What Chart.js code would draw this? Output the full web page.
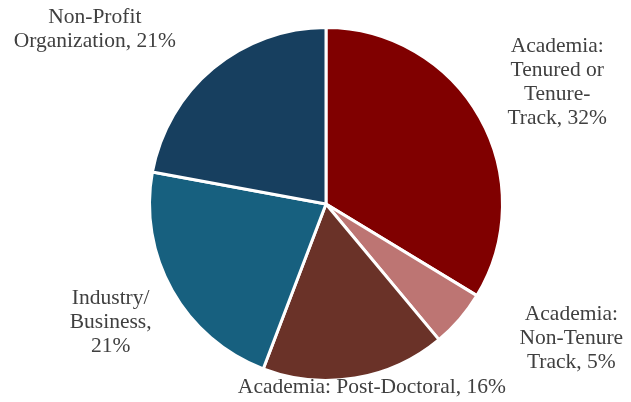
<!DOCTYPE html>
<html>
<head>
<meta charset="utf-8">
<script src="https://cdn.jsdelivr.net/npm/chart.js@4/dist/chart.umd.min.js"></script>
<style>
  html, body { margin: 0; padding: 0; background: #ffffff; }
  #wrap { width: 631px; height: 402px; position: relative; }
</style>
</head>
<body>
<div id="wrap"><canvas id="pieChart"></canvas></div>
<script>
// chart data
const categories = [
  ["Academia:", "Tenured or", "Tenure-", "Track, 32%"],
  ["Academia:", "Non-Tenure", "Track, 5%"],
  ["Academia: Post-Doctoral, 16%"],
  ["Industry/", "Business,", "21%"],
  ["Non-Profit", "Organization, 21%"]
];
const shares = [32, 5, 16, 21, 21];
const sliceColors = ["#800000", "#bd7573", "#6a3228", "#17607f", "#173f5f"];

// label centres relative to pie centre, in units of the pie radius
const labelOffsets = [
  [1.31, -0.69],
  [1.39, 0.76],
  [0.26, 1.04],
  [-1.22, 0.67],
  [-1.31, -0.99]
];

document.addEventListener("DOMContentLoaded", function () {
  const ctx = document.getElementById("pieChart").getContext("2d");

  // draws the outside labels next to each slice
  const outsideLabels = {
    id: "outsideLabels",
    afterDatasetsDraw(chart) {
      const meta = chart.getDatasetMeta(0);
      const c = chart.ctx;
      c.save();
      c.font = "21.5px 'Liberation Serif', 'Times New Roman', serif";
      c.fillStyle = "#404040";
      c.textAlign = "center";
      c.textBaseline = "middle";
      const lineH = 24;
      meta.data.forEach(function (arc, i) {
        const r = arc.outerRadius;
        const cx = arc.x + labelOffsets[i][0] * r;
        const cy = arc.y + labelOffsets[i][1] * r;
        const lines = categories[i];
        const top = cy - (lines.length - 1) * lineH / 2;
        lines.forEach(function (line, j) {
          c.fillText(line, cx, top + j * lineH);
        });
      });
      c.restore();
    }
  };

  new Chart(ctx, {
    type: "pie",
    data: {
      labels: categories.map(function (l) { return l.join(" "); }),
      datasets: [
        {
          data: shares,
          backgroundColor: sliceColors,
          borderColor: "#ffffff",
          borderWidth: 3,
        },
      ],
    },
    options: {
      responsive: true,
      maintainAspectRatio: false,
      animation: false,
      layout: {
        padding: { top: 26, bottom: 20, left: 148, right: 127 },
      },
      plugins: {
        legend: { display: false },
        tooltip: { enabled: false },
      },
    },
    plugins: [outsideLabels],
  });
});
</script>
</body>
</html>
